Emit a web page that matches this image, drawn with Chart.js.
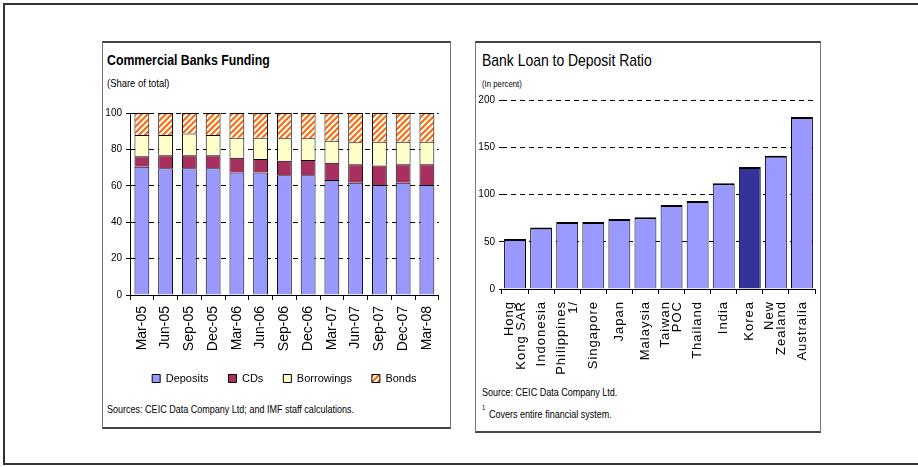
<!DOCTYPE html>
<html>
<head>
<meta charset="utf-8">
<script src="https://cdn.jsdelivr.net/npm/chart.js@4.4.0/dist/chart.umd.min.js"></script>
<style>
  body { margin: 0; width: 918px; height: 467px; overflow: hidden; position: relative; background: #fff; }
  #frame { position: absolute; left: 3px; top: 3px; width: 930px; height: 458px; border: 2px solid #333; }
  .panel { position: absolute; box-sizing: border-box; border: 1px solid #777; border-top: 2px solid #444; border-bottom: 2px solid #444; }
  #leftPanel { left: 102px; top: 41px; width: 349px; height: 388px; }
  #rightPanel { left: 475px; top: 41px; width: 346px; height: 392px; }
  .txt { position: absolute; white-space: nowrap; color: #000; line-height: 1; transform-origin: 0 0; }
  canvas { position: absolute; }
</style>
</head>
<body>
<div id="frame"></div>
<div class="panel" id="leftPanel"></div>
<div class="panel" id="rightPanel"></div>

<div class="txt" data-x="107" data-b="65" data-s="15" style="font-weight:bold">Commercial Banks Funding</div>
<div class="txt" data-x="107" data-b="88" data-s="11.5">(Share of total)</div>
<div class="txt" data-x="107" data-b="413" data-s="11">Sources: CEIC Data Company Ltd; and IMF staff calculations.</div>

<div class="txt" data-x="482" data-b="66" data-s="17">Bank Loan to Deposit Ratio</div>
<div class="txt" data-x="482" data-b="87" data-s="9.5">(In percent)</div>
<div class="txt" data-x="482" data-b="396" data-s="11">Source: CEIC Data Company Ltd.</div>
<div class="txt" data-x="482" data-b="410" data-s="7">1</div>
<div class="txt" data-x="489" data-b="418" data-s="11">Covers entire financial system.</div>

<canvas id="funding" width="348" height="294" style="left:102px;top:100px"></canvas>
<canvas id="ratio" width="345" height="290" style="left:475px;top:88px"></canvas>

<script>
const quarters = ["Mar-05", "Jun-05", "Sep-05", "Dec-05", "Mar-06", "Jun-06", "Sep-06",
                  "Dec-06", "Mar-07", "Jun-07", "Sep-07", "Dec-07", "Mar-08"];
const deposits   = [70.5, 69.6, 69.6, 69.6, 67.3, 67.3, 65.8, 65.8, 63.2, 61.7, 60.4, 61.7, 60.4];
const cds        = [5.8, 7.2, 7.2, 7.2, 8.1, 7.4, 8.0, 8.4, 9.5, 10.1, 10.7, 10.1, 11.4];
const borrowings = [11.6, 11.1, 12.0, 11.1, 11.0, 11.7, 12.3, 11.9, 12.1, 12.1, 13.1, 12.4, 12.4];
const bonds      = [12.1, 12.1, 11.2, 12.1, 13.6, 13.6, 13.9, 13.9, 15.2, 16.1, 15.8, 15.8, 15.8];

const countries = [["Hong", "Kong SAR"], "Indonesia", ["Philippines", "1/"], "Singapore", "Japan",
                   "Malaysia", ["Taiwan", "POC"], "Thailand", "India", "Korea", ["New", "Zealand"], "Australia"];
const loanToDeposit = [53, 65, 71, 71, 74, 76, 89, 93, 112, 129, 141, 182];
const highlighted = "Korea";

// pick a condensed face if the box has one
function hasFont(name) {
    const c = document.createElement("canvas").getContext("2d");
    c.font = "20px monospace";
    const a = c.measureText("abcdefghijklmnopW").width;
    c.font = '20px "' + name + '", monospace';
    return c.measureText("abcdefghijklmnopW").width !== a;
}
const narrowOk = hasFont("Liberation Sans Narrow");
const FAMILY = narrowOk ? '"Liberation Sans Narrow", "Arial Narrow", sans-serif' : '"Liberation Sans", Arial, sans-serif';

document.querySelectorAll(".txt").forEach(function (el) {
    const s = parseFloat(el.dataset.s);
    el.style.fontFamily = FAMILY;
    el.style.fontSize = s + "px";
    el.style.left = el.dataset.x + "px";
    el.style.top = (parseFloat(el.dataset.b) - 0.8465 * s) + "px";
    if (!narrowOk) el.style.transform = "scaleX(0.82)";
});

Chart.defaults.font.family = FAMILY;
Chart.defaults.color = "#000";

function makeHatch() {
    const s = 6;
    const c = document.createElement("canvas");
    c.width = c.height = s;
    const g = c.getContext("2d");
    g.fillStyle = "#fff";
    g.fillRect(0, 0, s, s);
    g.strokeStyle = "#ff6600";
    g.lineWidth = 2;
    g.beginPath();
    g.moveTo(0, s); g.lineTo(s, 0);
    g.moveTo(-s / 2, s / 2); g.lineTo(s / 2, -s / 2);
    g.moveTo(s / 2, s * 1.5); g.lineTo(s * 1.5, s / 2);
    g.stroke();
    return g.createPattern(c, "repeat");
}

function xAxis(height, fontSize, showLabels) {
    return {
        offset: true,
        grid: { offset: true, drawOnChartArea: false, tickLength: 5, color: "#000" },
        border: { color: "#000" },
        ticks: { display: showLabels, minRotation: 90, maxRotation: 90, autoSkip: false, padding: 6, font: { size: fontSize } },
        afterFit: function (scale) { scale.height = height; }
    };
}

// multi-line rotated labels, lines centred on the category
const centredLabels = {
    id: "centredLabels",
    afterDraw: function (chart) {
        const scale = chart.scales.x;
        const ctx = chart.ctx;
        const lh = 12;
        ctx.save();
        ctx.font = "13px " + FAMILY;
        ctx.letterSpacing = "1px";
        ctx.fillStyle = "#000";
        ctx.textAlign = "right";
        ctx.textBaseline = "middle";
        chart.data.labels.forEach(function (label, i) {
            const lines = [].concat(label);
            const x0 = scale.getPixelForTick(i);
            lines.forEach(function (line, j) {
                ctx.save();
                ctx.translate(x0 + (j - (lines.length - 1) / 2) * lh, scale.top + 12);
                ctx.rotate(-Math.PI / 2);
                ctx.fillText(line, 0, 0);
                ctx.restore();
            });
        });
        ctx.restore();
    }
};

new Chart(document.getElementById("funding"), {
    type: "bar",
    data: {
        labels: quarters,
        datasets: [
            { label: "Deposits", data: deposits, backgroundColor: "#9999ff" },
            { label: "CDs", data: cds, backgroundColor: "#a8305f" },
            { label: "Borrowings", data: borrowings, backgroundColor: "#ffffcc" },
            { label: "Bonds", data: bonds, backgroundColor: makeHatch() }
        ]
    },
    options: {
        responsive: false,
        animation: false,
        datasets: { bar: { borderColor: "#000", borderWidth: 1, barPercentage: 0.625, categoryPercentage: 1 } },
        layout: { padding: { top: 13, right: 8, left: 0, bottom: 0 } },
        plugins: {
            legend: {
                position: "bottom",
                fullSize: false,
                labels: { boxWidth: 8, boxHeight: 8, padding: 20, font: { size: 11 }, color: "#000" }
            },
            tooltip: { enabled: false }
        },
        scales: {
            x: Object.assign(xAxis(58, 14, true), { stacked: true }),
            y: {
                stacked: true,
                min: 0,
                max: 100,
                ticks: { stepSize: 20, padding: 4, font: { size: 10 } },
                grid: { color: "#000", tickLength: 4 },
                border: { color: "#000", dash: [5, 4] },
                afterFit: function (scale) { scale.width = 28; }
            }
        }
    }
});

new Chart(document.getElementById("ratio"), {
    type: "bar",
    data: {
        labels: countries,
        datasets: [{
            data: loanToDeposit,
            backgroundColor: countries.map(function (c) { return c === highlighted ? "#333399" : "#9999ff"; }),
            borderColor: "#000",
            borderWidth: { top: 2, left: 1, right: 1, bottom: 0 },
            barPercentage: 0.84,
            categoryPercentage: 1
        }]
    },
    options: {
        responsive: false,
        animation: false,
        layout: { padding: { top: 12, right: 5, left: 0, bottom: 0 } },
        plugins: { legend: { display: false }, tooltip: { enabled: false } },
        scales: {
            x: xAxis(89, 13, false),
            y: {
                min: 0,
                max: 200,
                ticks: { stepSize: 50, padding: 4, font: { size: 10 } },
                grid: { color: "#000", tickLength: 3 },
                border: { display: false, dash: [5, 4] },
                afterFit: function (scale) { scale.width = 27; }
            }
        }
    },
    plugins: [centredLabels]
});
</script>
</body>
</html>
